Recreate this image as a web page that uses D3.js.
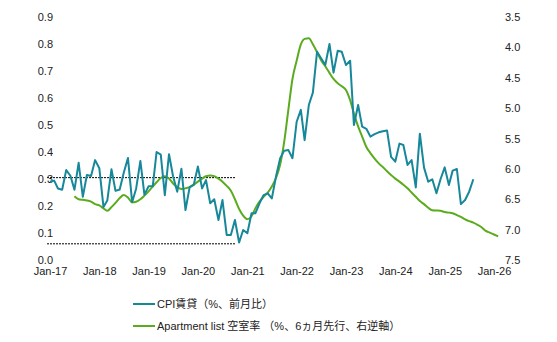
<!DOCTYPE html>
<html>
<head>
<meta charset="utf-8">
<script src="https://cdn.jsdelivr.net/npm/d3@7/dist/d3.min.js"></script>
<style>
  html, body { margin: 0; padding: 0; background: #fff; }
  svg text { font-family: "Liberation Sans", Arial, "Noto Sans CJK JP", sans-serif; fill: #222; }
</style>
</head>
<body>
<svg id="chart" width="557" height="342"></svg>
<script>
// CPI rent, month-over-month %, monthly from Jan-2017
const cpiStart = "2017-01";
const cpiRent = [
  0.29, 0.294, 0.265, 0.26, 0.333, 0.312, 0.26, 0.36, 0.234, 0.315, 0.311, 0.37,
  0.34, 0.196, 0.22, 0.336, 0.256, 0.261, 0.323, 0.378, 0.214, 0.265, 0.367, 0.242,
  0.273, 0.274, 0.40, 0.39, 0.24, 0.392, 0.31, 0.253, 0.338, 0.185, 0.27, 0.278,
  0.346, 0.265, 0.296, 0.21, 0.225, 0.148, 0.222, 0.093, 0.093, 0.148, 0.065, 0.111,
  0.099, 0.173, 0.173, 0.21, 0.24, 0.247, 0.228, 0.309, 0.377, 0.405, 0.407, 0.377,
  0.512, 0.556, 0.444, 0.574, 0.62, 0.771, 0.747, 0.722, 0.80, 0.694, 0.775, 0.771,
  0.722, 0.738, 0.50, 0.574, 0.494, 0.486, 0.457, 0.466, 0.473, 0.477, 0.480, 0.382,
  0.364, 0.431, 0.426, 0.352, 0.37, 0.269, 0.468, 0.342, 0.29, 0.299, 0.247, 0.299,
  0.343, 0.278, 0.331, 0.337, 0.207, 0.222, 0.253, 0.299
];

// Apartment List vacancy rate (%), shifted 6 months forward, monthly from Jul-2017
const vacancyStart = "2017-07";
const vacancy = [
  6.45, 6.50, 6.51, 6.52, 6.54, 6.58,
  6.60, 6.65, 6.69, 6.63, 6.56, 6.48, 6.43, 6.47, 6.55, 6.54, 6.50, 6.44,
  6.37, 6.29, 6.22, 6.15, 6.12, 6.16, 6.24, 6.30, 6.33, 6.32, 6.30, 6.26,
  6.21, 6.16, 6.12, 6.11, 6.12, 6.16, 6.21, 6.28, 6.36, 6.50, 6.66, 6.77,
  6.83, 6.78, 6.65, 6.54, 6.46, 6.39, 6.29, 6.15, 5.93, 5.55, 5.02, 4.52,
  4.22, 3.95, 3.86, 3.85, 3.95, 4.08, 4.21, 4.31, 4.42, 4.52, 4.59, 4.64,
  4.70, 4.87, 5.09, 5.30, 5.47, 5.64, 5.74, 5.83, 5.91, 5.97, 6.04, 6.10,
  6.16, 6.21, 6.26, 6.32, 6.39, 6.46, 6.53, 6.58, 6.64, 6.68, 6.685, 6.69,
  6.71, 6.72, 6.73, 6.76, 6.79, 6.83, 6.86, 6.885, 6.92, 6.96, 7.02, 7.05,
  7.08, 7.11
];

// Reference band drawn over the pre-2021 period (left axis)
const refLevels = [0.305, 0.06];
const refSpan = ["2016-12-10", "2020-10-08"];

const leftTicks = [0, 0.1, 0.2, 0.3, 0.4, 0.5, 0.6, 0.7, 0.8, 0.9];
const rightTicks = [3.5, 4.0, 4.5, 5.0, 5.5, 6.0, 6.5, 7.0, 7.5];
const xTickYears = [2017, 2018, 2019, 2020, 2021, 2022, 2023, 2024, 2025, 2026];

const legendLabels = ["CPI賃貸（%、前月比）", "Apartment list 空室率 （%、6ヵ月先行、右逆軸）"];
const colors = ["#17879a", "#5aab1e"];

const parseMonth = d3.timeParse("%Y-%m");
const parseDay = d3.timeParse("%Y-%m-%d");
const monthSeries = (start, values) => {
  const s = parseMonth(start);
  return values.map((v, i) => ({ date: d3.timeMonth.offset(s, i), value: v }));
};
const cpiData = monthSeries(cpiStart, cpiRent);
const vacData = monthSeries(vacancyStart, vacancy);

const svg = d3.select("#chart");

const x = d3.scaleTime()
  .domain([new Date(2017, 0, 1), new Date(2026, 0, 1)])
  .range([50, 494]);
const yL = d3.scaleLinear().domain([0, 0.9]).range([260, 17]);
const yR = d3.scaleLinear().domain([3.5, 7.5]).range([17, 260]);

// Left axis labels
const leftAxis = d3.axisLeft(yL).tickValues(leftTicks).tickFormat(d3.format(".1f")).tickSize(0).tickPadding(0);
svg.append("g").attr("transform", "translate(53,0)").call(leftAxis)
  .call(g => g.select(".domain").remove())
  .selectAll("text").attr("font-size", 11).attr("fill", "#222");

// Right axis labels
const rightAxis = d3.axisRight(yR).tickValues(rightTicks).tickFormat(d3.format(".1f")).tickSize(0).tickPadding(0);
svg.append("g").attr("transform", "translate(505,0)").call(rightAxis)
  .call(g => g.select(".domain").remove())
  .selectAll("text").attr("font-size", 11).attr("fill", "#222");

// Bottom axis labels
const bottomAxis = d3.axisBottom(x)
  .tickValues(xTickYears.map(yr => new Date(yr, 0, 1)))
  .tickFormat(d3.timeFormat("%b-%y")).tickSize(0).tickPadding(0);
svg.append("g").attr("transform", "translate(0,267)").call(bottomAxis)
  .call(g => g.select(".domain").remove())
  .selectAll("text").attr("font-size", 11).attr("fill", "#222");

// Dashed reference lines
svg.append("g").selectAll("line").data(refLevels).join("line")
  .attr("x1", x(parseDay(refSpan[0]))).attr("x2", x(parseDay(refSpan[1])))
  .attr("y1", d => yL(d)).attr("y2", d => yL(d))
  .attr("stroke", "#000").attr("stroke-width", 1).attr("stroke-dasharray", "2,1");

// Series lines
const lineL = d3.line().x(d => x(d.date)).y(d => yL(d.value));
const lineR = d3.line().x(d => x(d.date)).y(d => yR(d.value)).curve(d3.curveMonotoneX);

svg.append("path").datum(vacData).attr("d", lineR)
  .attr("fill", "none").attr("stroke", colors[1]).attr("stroke-width", 2).attr("stroke-linejoin", "round");
svg.append("path").datum(cpiData).attr("d", lineL)
  .attr("fill", "none").attr("stroke", colors[0]).attr("stroke-width", 2).attr("stroke-linejoin", "round");

// Legend
const legend = svg.append("g").attr("transform", "translate(133,304)");
legendLabels.forEach((label, i) => {
  const g = legend.append("g").attr("transform", `translate(0,${i * 22})`);
  g.append("line").attr("x1", 0).attr("x2", 22).attr("y1", 0).attr("y2", 0)
    .attr("stroke", colors[i]).attr("stroke-width", 2);
  g.append("text").attr("x", 24).attr("y", 0).attr("dy", "0.35em")
    .attr("font-size", 11).text(label);
});
</script>
</body>
</html>
